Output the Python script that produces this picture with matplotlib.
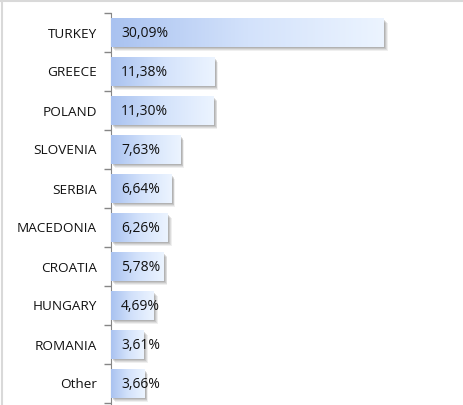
import matplotlib
matplotlib.use("Agg")
import matplotlib.pyplot as plt
import numpy as np
from matplotlib.colors import LinearSegmentedColormap
from matplotlib.patches import Rectangle
from matplotlib.lines import Line2D

countries = ["TURKEY", "GREECE", "POLAND", "SLOVENIA", "SERBIA", "MACEDONIA",
             "CROATIA", "HUNGARY", "ROMANIA", "Other"]
shares = [30.09, 11.38, 11.30, 7.63, 6.64, 6.26, 5.78, 4.69, 3.61, 3.66]
labels = ["30,09%", "11,38%", "11,30%", "7,63%", "6,64%", "6,26%",
          "5,78%", "4,69%", "3,61%", "3,66%"]

W, H = 463, 405
fig = plt.figure(figsize=(W / 100, H / 100), dpi=100)
fig.patch.set_facecolor("white")

ax = fig.add_axes([111 / W, 2 / H, 317 / W, 390 / H])
n = len(countries)
ypos = np.arange(n)

cmap = LinearSegmentedColormap.from_list("g", ["#a9c2f0", "#d3e2fb", "#ecf4ff"])
grad = np.linspace(0, 1, 256).reshape(1, -1)
bh = 0.72
# soft shadows
for k, a in [(1.0, 0.10), (0.8, 0.14), (0.6, 0.18), (0.4, 0.22)]:
    for y, v in zip(ypos, shares):
        ax.add_patch(Rectangle((0.45 * k, y - bh / 2 + 0.11 * k), v, bh,
                               facecolor="#6a6a6a", alpha=a, edgecolor="none", zorder=1))
bars = ax.barh(ypos, shares, height=bh, color="none", edgecolor="none", zorder=2)
for bar in bars:
    x0, y0 = bar.get_x(), bar.get_y()
    w, h = bar.get_width(), bar.get_height()
    ax.imshow(grad, cmap=cmap, aspect="auto", extent=[x0, x0 + w, y0 + h, y0],
              zorder=3, interpolation="bicubic")
ax.set_ylim(n - 0.5, -0.5)
ax.set_xlim(0, 35)

for y, lab in zip(ypos, labels):
    ax.text(1.1, y + 0.03, lab, va="center", ha="left", fontsize=10,
            family="Open Sans", color="#111111", zorder=5)

ax.set_yticks(ypos)
ax.set_yticklabels(countries, fontsize=9.7, family="Open Sans", color="#111111")
ax.tick_params(axis="y", which="major", length=0, pad=10)
ax.set_yticks(np.arange(-0.5, n, 1), minor=True)
ax.tick_params(axis="y", which="minor", length=5, color="#868686", width=1)
ax.set_xticks([])
for s in ["top", "right", "bottom"]:
    ax.spines[s].set_visible(False)
ax.spines["left"].set_color("#868686")
ax.spines["left"].set_bounds(-0.5, n + 0.5)
ax.spines["left"].set_clip_on(False)
ax.set_facecolor("none")

# outer frame (top and left visible)
fig.add_artist(Line2D([0, 1], [1 - 1 / H, 1 - 1 / H], transform=fig.transFigure,
                      color="#d9d9d9", lw=1.5))
fig.add_artist(Line2D([2 / W, 2 / W], [0, 1], transform=fig.transFigure,
                      color="#d9d9d9", lw=1.5))

fig.savefig("out.png", dpi=100, facecolor="white")
